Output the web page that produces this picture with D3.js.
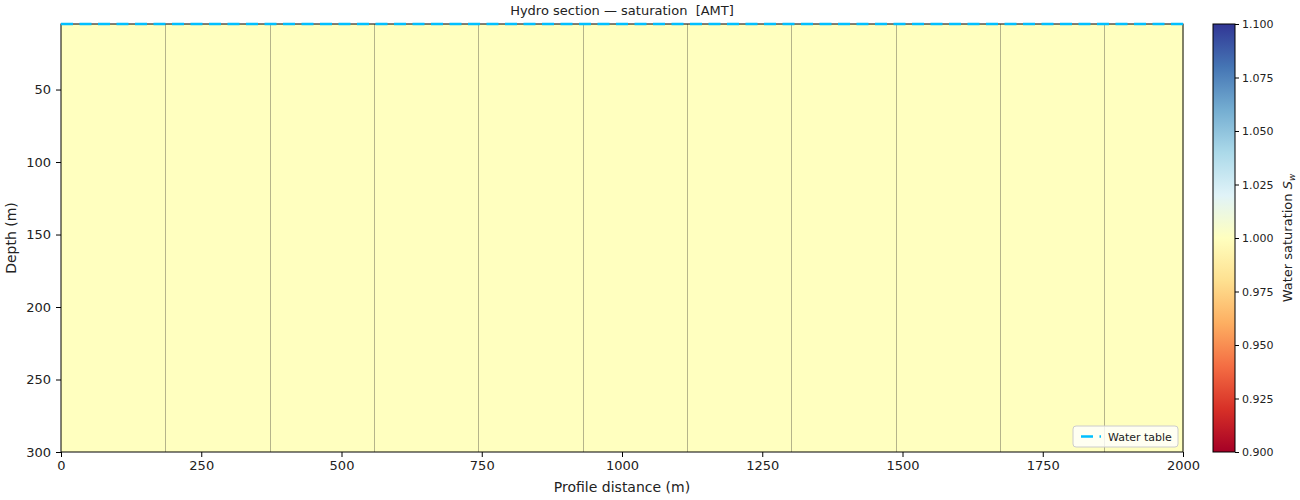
<!DOCTYPE html>
<html>
<head>
<meta charset="utf-8">
<script src="https://cdn.jsdelivr.net/npm/d3@7"></script>
<style>
  body { margin: 0; background: #fff; }
  text { font-family: "DejaVu Sans", sans-serif; fill: #222; white-space: pre; }
</style>
</head>
<body>
<svg id="chart" width="1300" height="500"></svg>
<script>
// profile data
const cellEdges = [0, 186, 372, 558, 744, 930, 1116, 1302, 1488, 1674, 1860, 2000];
const saturation = [1.0, 1.0, 1.0, 1.0, 1.0, 1.0, 1.0, 1.0, 1.0, 1.0, 1.0];
const waterTableX = [0, 2000];
const waterTableDepth = [4.8, 4.8];
const xTicks = [0, 250, 500, 750, 1000, 1250, 1500, 1750, 2000];
const yTicks = [50, 100, 150, 200, 250, 300];
const cbTicks = [0.9, 0.925, 0.95, 0.975, 1.0, 1.025, 1.05, 1.075, 1.1];

// RdYlBu anchor colours (matplotlib)
const rdylbu = ["#a50026", "#d73027", "#f46d43", "#fdae61", "#fee090", "#ffffbf",
                "#e0f3f8", "#abd9e9", "#74add1", "#4575b4", "#313695"];

const svg = d3.select("#chart");
const m = { left: 61, right: 1183, top: 24, bottom: 452 };

const x = d3.scaleLinear().domain([0, 2000]).range([m.left, m.right]);
const y = d3.scaleLinear().domain([4.8, 300]).range([m.top, m.bottom]);
const color = d3.scaleLinear()
    .domain(d3.range(rdylbu.length).map(i => 0.9 + 0.2 * i / (rdylbu.length - 1)))
    .range(rdylbu);

const plot = svg.append("g");

// saturation cells
plot.selectAll("rect.cell")
    .data(saturation)
    .enter()
    .append("rect")
    .attr("class", "cell")
    .attr("x", (d, i) => x(cellEdges[i]))
    .attr("y", y(4.8))
    .attr("width", (d, i) => x(cellEdges[i + 1]) - x(cellEdges[i]) + 0.5)
    .attr("height", y(300) - y(4.8))
    .attr("fill", d => color(d));

// cell boundaries
plot.selectAll("line.edge")
    .data(cellEdges.slice(1, -1))
    .enter()
    .append("line")
    .attr("x1", d => Math.round(x(d)) + 0.5)
    .attr("x2", d => Math.round(x(d)) + 0.5)
    .attr("y1", m.top)
    .attr("y2", m.bottom)
    .attr("stroke", "#b5b48a")
    .attr("stroke-width", 1);

// frame
svg.append("rect")
    .attr("x", m.left).attr("y", m.top)
    .attr("width", m.right - m.left).attr("height", m.bottom - m.top)
    .attr("fill", "none").attr("stroke", "#000").attr("stroke-width", 1);

// water table
const wt = d3.line().x((d, i) => x(waterTableX[i])).y(d => y(d));
svg.append("path")
    .datum(waterTableDepth)
    .attr("d", wt)
    .attr("fill", "none")
    .attr("stroke", "#00bfff")
    .attr("stroke-width", 2.5)
    .attr("stroke-dasharray", "12,6.5");

// axes
const xAxis = svg.append("g")
    .attr("transform", `translate(0,${m.bottom})`)
    .call(d3.axisBottom(x).tickValues(xTicks).tickFormat(d3.format("d")).tickSize(5).tickPadding(4));
const yAxis = svg.append("g")
    .attr("transform", `translate(${m.left},0)`)
    .call(d3.axisLeft(y).tickValues(yTicks).tickFormat(d3.format("d")).tickSize(5).tickPadding(5));
[xAxis, yAxis].forEach(a => {
    a.select(".domain").remove();
    a.selectAll("text").style("font-size", "13px").style("font-family", "DejaVu Sans").attr("fill", "#222");
    a.selectAll("line").attr("stroke", "#000");
});

svg.append("text")
    .attr("x", (m.left + m.right) / 2).attr("y", 492)
    .attr("text-anchor", "middle").style("font-size", "14px")
    .text("Profile distance (m)");
svg.append("text")
    .attr("transform", `translate(16,${(m.top + m.bottom) / 2}) rotate(-90)`)
    .attr("text-anchor", "middle").style("font-size", "14px")
    .text("Depth (m)");
svg.append("text")
    .attr("x", (m.left + m.right) / 2).attr("y", 15)
    .attr("text-anchor", "middle").style("font-size", "13px")
    .text("Hydro section \u2014 saturation  [AMT]");

// legend
const lg = svg.append("g").attr("transform", "translate(1073,426)");
lg.append("rect")
    .attr("width", 105).attr("height", 21).attr("rx", 3)
    .attr("fill", "#fff").attr("fill-opacity", 0.8)
    .attr("stroke", "#ccc");
lg.append("line")
    .attr("x1", 8).attr("x2", 28).attr("y1", 10.5).attr("y2", 10.5)
    .attr("stroke", "#00bfff").attr("stroke-width", 2.5)
    .attr("stroke-dasharray", "12,6.5");
lg.append("text")
    .attr("x", 35).attr("y", 14.5)
    .style("font-size", "11px")
    .text("Water table");

// colorbar
const cb = { x: 1213, w: 22, top: 24, bottom: 452 };
const cy = d3.scaleLinear().domain([0.9, 1.1]).range([cb.bottom, cb.top]);
const defs = svg.append("defs");
const grad = defs.append("linearGradient")
    .attr("id", "cbgrad").attr("x1", 0).attr("x2", 0).attr("y1", 1).attr("y2", 0);
rdylbu.forEach((c, i) => {
    grad.append("stop").attr("offset", i / (rdylbu.length - 1)).attr("stop-color", c);
});
svg.append("rect")
    .attr("x", cb.x).attr("y", cb.top)
    .attr("width", cb.w).attr("height", cb.bottom - cb.top)
    .attr("fill", "url(#cbgrad)")
    .attr("stroke", "#000").attr("stroke-width", 1);
const cbAxis = svg.append("g")
    .attr("transform", `translate(${cb.x + cb.w},0)`)
    .call(d3.axisRight(cy).tickValues(cbTicks).tickFormat(d3.format(".3f")).tickSize(4).tickPadding(3));
cbAxis.select(".domain").remove();
cbAxis.selectAll("text").style("font-size", "11px").style("font-family", "DejaVu Sans").attr("fill", "#222");
cbAxis.selectAll("line").attr("stroke", "#000");

const cbLabel = svg.append("text")
    .attr("transform", `translate(1292,${(cb.top + cb.bottom) / 2}) rotate(-90)`)
    .attr("text-anchor", "middle").style("font-size", "13px");
cbLabel.append("tspan").text("Water saturation ");
cbLabel.append("tspan").style("font-style", "italic").text("S");
cbLabel.append("tspan").attr("dy", 3).style("font-size", "9px").style("font-style", "italic").text("w");
</script>
</body>
</html>
